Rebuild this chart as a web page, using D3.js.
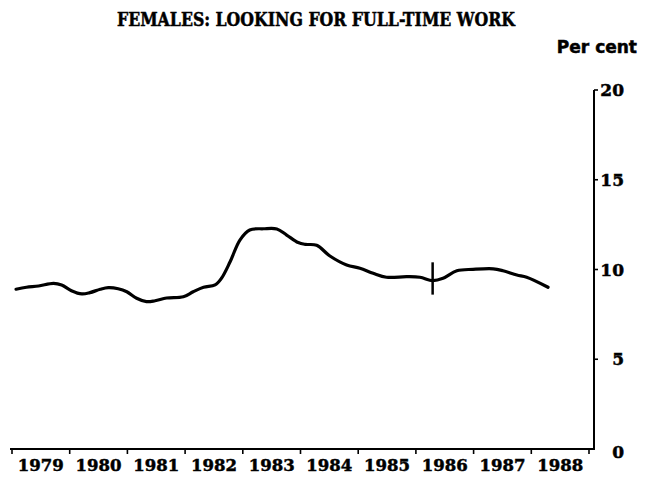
<!DOCTYPE html>
<html>
<head>
<meta charset="utf-8">
<script src="https://cdn.jsdelivr.net/npm/d3@7"></script>
<style>
  html, body { margin: 0; padding: 0; background: #fff; }
  svg { display: block; }
  text { font-family: "DejaVu Serif", serif; font-weight: bold; fill: #000; stroke: #000; stroke-width: 0.5px; }
</style>
</head>
<body>
<svg id="chart" width="657" height="478"></svg>
<script>
// ---- data ----
const title = "FEMALES: LOOKING FOR FULL-TIME WORK";
const unitLabel = "Per cent";
const yearLabels = ["1979","1980","1981","1982","1983","1984","1985","1986","1987","1988"];
const yTicks = [0, 5, 10, 15, 20];
// time in decimal years
const times = [1979.07,1979.25,1979.46,1979.72,1979.86,1980.03,1980.21,1980.35,1980.53,1980.67,
  1980.84,1980.99,1981.16,1981.33,1981.48,1981.68,1981.97,1982.14,1982.32,1982.52,
  1982.63,1982.78,1982.95,1983.12,1983.36,1983.59,1983.76,1983.96,1984.08,1984.28,
  1984.51,1984.80,1985.03,1985.26,1985.49,1985.84,1986.07,1986.29,1986.47,1986.71,
  1986.99,1987.34,1987.51,1987.75,1987.92,1988.29];
// per cent looking for full-time work
const values = [8.90,9.01,9.08,9.23,9.14,8.82,8.64,8.71,8.90,8.99,
  8.93,8.76,8.40,8.21,8.26,8.41,8.48,8.76,9.01,9.14,
  9.51,10.43,11.64,12.20,12.27,12.26,11.92,11.50,11.40,11.35,
  10.75,10.25,10.07,9.79,9.57,9.60,9.57,9.38,9.51,9.93,
  10.01,10.04,9.93,9.69,9.57,9.01];
// series break marker
const breakTime = [1986.29];
const breakRange = [8.6, 10.4];

// ---- drawing ----
const svg = d3.select("#chart");
const x = d3.scaleLinear().domain([1979, 1989]).range([12, 589]);
const y = d3.scaleLinear().domain([0, 20]).range([449, 90]);
const axisX = 594;

// title
svg.append("text")
  .attr("x", 117).attr("y", 26)
  .attr("textLength", 398).attr("lengthAdjust", "spacingAndGlyphs")
  .style("font-size", "18px")
  .text(title);

svg.append("text")
  .attr("x", 637).attr("y", 53)
  .attr("text-anchor", "end")
  .style("font-family", "'DejaVu Sans', sans-serif")
  .style("font-size", "17px")
  .text(unitLabel);

// x axis
const xAxisG = svg.append("g");
xAxisG.append("line")
  .attr("x1", 10).attr("x2", axisX)
  .attr("y1", 449).attr("y2", 449)
  .attr("stroke", "#000").attr("stroke-width", 2);
const tickYears = d3.range(1979, 1990);
xAxisG.selectAll("line.tk").data(tickYears).enter().append("line")
  .attr("class", "tk")
  .attr("x1", d => x(d)).attr("x2", d => x(d))
  .attr("y1", 449).attr("y2", 454)
  .attr("stroke", "#000").attr("stroke-width", 1.6);
xAxisG.selectAll("text").data(yearLabels).enter().append("text")
  .attr("x", (d, i) => x(1979 + i + 0.5))
  .attr("y", 471)
  .attr("text-anchor", "middle")
  .attr("textLength", 46).attr("lengthAdjust", "spacingAndGlyphs")
  .style("font-size", "17px")
  .text(d => d);

// y axis
const yAxisG = svg.append("g");
yAxisG.append("line")
  .attr("x1", axisX).attr("x2", axisX)
  .attr("y1", y(20)).attr("y2", 450)
  .attr("stroke", "#000").attr("stroke-width", 2);
yAxisG.selectAll("line.tk").data(yTicks.filter(d => d > 0)).enter().append("line")
  .attr("class", "tk")
  .attr("x1", axisX).attr("x2", axisX + 4)
  .attr("y1", d => y(d)).attr("y2", d => y(d))
  .attr("stroke", "#000").attr("stroke-width", 1.6);
yAxisG.selectAll("text").data(yTicks).enter().append("text")
  .attr("x", 624)
  .attr("y", d => y(d) + 6 + (d === 0 ? 3 : 0))
  .attr("text-anchor", "end")
  .style("font-size", "17px")
  .text(d => d);

// series line
const pts = times.map((t, i) => [t, values[i]]);
const line = d3.line()
  .x(d => x(d[0])).y(d => y(d[1]))
  .curve(d3.curveCatmullRom.alpha(0.5));
svg.append("path")
  .datum(pts)
  .attr("d", line)
  .attr("fill", "none")
  .attr("stroke", "#000")
  .attr("stroke-width", 3.2)
  .attr("stroke-linejoin", "round")
  .attr("stroke-linecap", "round");

// break marker
svg.selectAll("line.brk").data(breakTime).enter().append("line")
  .attr("class", "brk")
  .attr("x1", d => x(d)).attr("x2", d => x(d))
  .attr("y1", y(breakRange[1])).attr("y2", y(breakRange[0]))
  .attr("stroke", "#000").attr("stroke-width", 2.5);
</script>
</body>
</html>
